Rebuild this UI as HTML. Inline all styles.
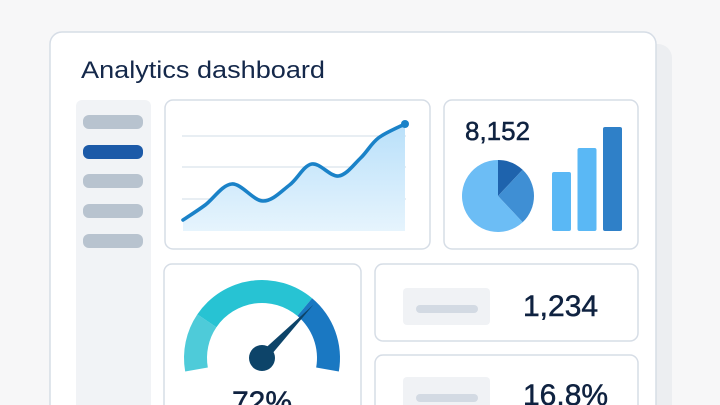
<!DOCTYPE html>
<html><head><meta charset="utf-8"><style>
html,body{margin:0;padding:0;background:#f6f7f8;width:720px;height:405px;overflow:hidden;}
svg{display:block;font-family:"Liberation Sans",sans-serif;}
</style></head><body>
<svg width="720" height="405" viewBox="0 0 720 405">
  <rect x="0" y="0" width="720" height="405" fill="#f7f7f8"/>
  <rect x="62" y="44" width="610" height="400" rx="14" fill="#eceef1"/>
  <rect x="50" y="32" width="606" height="400" rx="12" fill="#ffffff" stroke="#d6dde6" stroke-width="1.5"/>
  <text x="81" y="78" font-size="24" fill="#14284a" textLength="244" lengthAdjust="spacingAndGlyphs">Analytics dashboard</text>

  <g>
    <rect x="76" y="100" width="75" height="320" rx="6" fill="#f1f3f6"/>
    <rect x="83" y="115" width="60" height="14" rx="6" fill="#b8c3cf"/>
    <rect x="83" y="145" width="60" height="14" rx="6" fill="#1c5aa8"/>
    <rect x="83" y="174" width="60" height="14" rx="6" fill="#b8c3cf"/>
    <rect x="83" y="204" width="60" height="14" rx="6" fill="#b8c3cf"/>
    <rect x="83" y="234" width="60" height="14" rx="6" fill="#b8c3cf"/>
  </g>

  <rect x="165" y="100" width="265" height="149" rx="8" fill="#fff" stroke="#d6dde6" stroke-width="1.5"/>
  <defs>
    <linearGradient id="af" x1="0" y1="0" x2="0" y2="1">
      <stop offset="0" stop-color="#b9e0fa"/><stop offset="1" stop-color="#e6f4fd"/>
    </linearGradient>
  </defs>
  <g id="linechart"></g>

  <rect x="444" y="100" width="194" height="149" rx="8" fill="#fff" stroke="#d6dde6" stroke-width="1.5"/>
  <text x="465" y="140" font-size="26" fill="#0f2240" stroke="#0f2240" stroke-width="0.5">8,152</text>
  <g id="pie"></g>
  <g id="bars"></g>

  <rect x="164" y="264" width="197" height="170" rx="8" fill="#fff" stroke="#d6dde6" stroke-width="1.5"/>
  <g id="gauge"></g>
  <text x="262" y="412" font-size="30" fill="#0f2240" stroke="#0f2240" stroke-width="0.5" text-anchor="middle">72%</text>

  <rect x="375" y="264" width="263" height="77" rx="8" fill="#fff" stroke="#d6dde6" stroke-width="1.5"/>
  <rect x="403" y="288" width="87" height="37" rx="4" fill="#f0f2f5"/>
  <rect x="416" y="305" width="62" height="8" rx="4" fill="#d3dae3"/>
  <text x="523" y="316" font-size="30" fill="#0f2240" stroke="#0f2240" stroke-width="0.5">1,234</text>

  <rect x="375" y="355" width="263" height="80" rx="8" fill="#fff" stroke="#d6dde6" stroke-width="1.5"/>
  <rect x="403" y="377" width="87" height="37" rx="4" fill="#f0f2f5"/>
  <rect x="416" y="394" width="62" height="8" rx="4" fill="#d3dae3"/>
  <text x="523" y="405" font-size="30" fill="#0f2240" stroke="#0f2240" stroke-width="0.5">16.8%</text>
</svg>
<script>
const NS="http://www.w3.org/2000/svg";
// line chart data
const lineX=[0,10,22,36,48,58,70,80,88,100];
const lineY=[11,26,47,30,46,67,55,73,93,107];
// pie data
const pieValues=[12,26,62];
const pieColors=["#1e63ad","#3f8fd4","#6cbdf5"];
// bar data
const barValues=[59,83,104];
const barColors=["#5ab8f5","#5ab8f5","#2f80c8"];
// gauge
const gaugeValue=72;

function mk(tag,attrs,parent){const e=document.createElementNS(NS,tag);for(const k in attrs)e.setAttribute(k,attrs[k]);parent.appendChild(e);return e;}

const lx=v=>183+v*2.22;
const ly=v=>231-v;
const lc=document.getElementById('linechart');
[136,167,199].forEach(function(y){
  const g=mk('line',{x1:182,x2:406,y1:y,y2:y,stroke:'#dbe3ec','stroke-width':1.2},lc);
  
  
});
function smooth(pts){let d='M'+pts[0][0]+','+pts[0][1];for(let i=0;i<pts.length-1;i++){const p0=pts[Math.max(0,i-1)],p1=pts[i],p2=pts[i+1],p3=pts[Math.min(pts.length-1,i+2)];const c1=[p1[0]+(p2[0]-p0[0])/6,p1[1]+(p2[1]-p0[1])/6];const c2=[p2[0]-(p3[0]-p1[0])/6,p2[1]-(p3[1]-p1[1])/6];d+=' C'+c1+' '+c2+' '+p2;}return d;}
const pts=lineX.map((x,i)=>[lx(x),ly(lineY[i])]);
const dl=smooth(pts);
const area=mk('path',{d:dl+' L'+lx(100)+',231 L'+lx(0)+',231 Z',fill:'url(#af)'},lc);


const ln=mk('path',{d:dl,fill:'none',stroke:'#1a82c8','stroke-width':3.6,'stroke-linecap':'round','stroke-linejoin':'round'},lc);


const ep=mk('circle',{cx:pts[pts.length-1][0],cy:pts[pts.length-1][1],r:4,fill:'#1a82c8'},lc);



const pg=document.getElementById('pie');
const tot=pieValues.reduce((a,b)=>a+b,0);let a0=0;const cx=498,cy=196,r=36;
pieValues.forEach(function(v,i){const a1=a0+v/tot*2*Math.PI;
  const x0=cx+r*Math.sin(a0),y0=cy-r*Math.cos(a0),x1=cx+r*Math.sin(a1),y1=cy-r*Math.cos(a1);
  const p=mk('path',{d:`M${cx},${cy} L${x0},${y0} A${r},${r} 0 ${a1-a0>Math.PI?1:0} 1 ${x1},${y1} Z`,fill:pieColors[i]},pg);
  
  
  a0=a1;});

const bg=document.getElementById('bars');
const bx=i=>552+i*25.5, by=v=>231-v;
barValues.forEach(function(v,i){
  const b=mk('rect',{x:bx(i),y:by(v),width:19,height:v,rx:2,fill:barColors[i]},bg);
  
  
});

const gg=document.getElementById('gauge');
const gx=262,gy=358,R=78,Ri=55;
const angOf=v=>(190-v/100*200)*Math.PI/180;
function seg(v0,v1,col,name){const A=angOf(v0),B=angOf(v1);
  const p=[[gx+R*Math.cos(A),gy-R*Math.sin(A)],[gx+R*Math.cos(B),gy-R*Math.sin(B)],[gx+Ri*Math.cos(B),gy-Ri*Math.sin(B)],[gx+Ri*Math.cos(A),gy-Ri*Math.sin(A)]];
  const e=mk('path',{d:`M${p[0]} A${R},${R} 0 0 1 ${p[1]} L${p[2]} A${Ri},${Ri} 0 0 0 ${p[3]} Z`,fill:col},gg);
  
  }
seg(0,22,'#4ecbd9','gauge-segment-low');
seg(22,70,'#27c3d3','gauge-segment-mid');
seg(70,100,'#1a78c2','gauge-segment-high');
const na=angOf(gaugeValue);
const tip=[gx+(R-4)*Math.cos(na),gy-(R-4)*Math.sin(na)];
const pa=na+Math.PI/2;
const nd=mk('path',{d:`M${gx+5*Math.cos(pa)},${gy-5*Math.sin(pa)} L${tip} L${gx-5*Math.cos(pa)},${gy+5*Math.sin(pa)} Z`,fill:'#0d4469'},gg);


const hub=mk('circle',{cx:gx,cy:gy,r:13,fill:'#0d4469'},gg);


</script>
</body></html>
